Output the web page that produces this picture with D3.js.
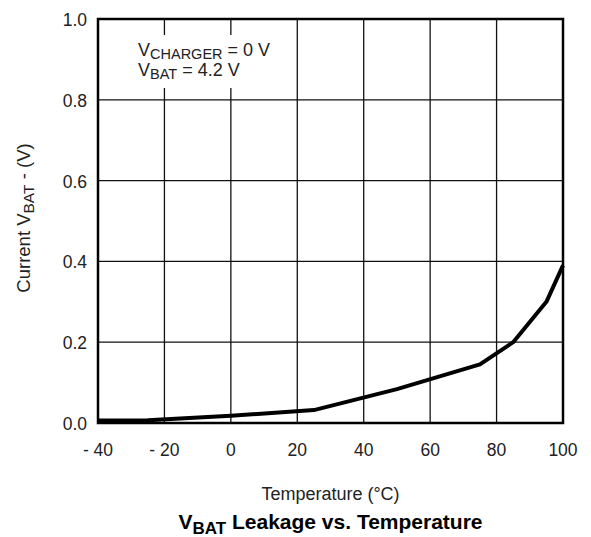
<!DOCTYPE html>
<html>
<head>
<meta charset="utf-8">
<script src="https://cdn.jsdelivr.net/npm/d3@7"></script>
<style>
body { margin:0; background:#fff; }
text { font-family: "Liberation Sans", Arial, sans-serif; fill:#222; }
</style>
</head>
<body>
<div id="chart"></div>
<script>
// values
var temps = [-40, -25, 0, 25, 50, 75, 85, 95, 100];
var volts = [0.006, 0.007, 0.018, 0.032, 0.084, 0.145, 0.2, 0.3, 0.39];
var xTicks = [-40, -20, 0, 20, 40, 60, 80, 100];
var yTicks = [0, 0.2, 0.4, 0.6, 0.8, 1.0];

var width = 591, height = 537;
var margin = {t:19, r:28, b:114, l:98};
var plotWidth = width - margin.l - margin.r,
    plotHeight = height - margin.t - margin.b;

var svg = d3.select('#chart')
	.append('svg')
	.attr('width', width)
	.attr('height', height);

var plot = svg.append('g')
	.attr('transform','translate('+margin.l+','+margin.t+')');

var x = d3.scaleLinear().domain([-40, 100]).range([0, plotWidth]);
var y = d3.scaleLinear().domain([0, 1]).range([plotHeight, 0]);

// grid
plot.selectAll('.vgrid')
	.data(xTicks.slice(1, -1))
	.enter()
	.append('line')
	.attr('x1', function(d){ return x(d); })
	.attr('x2', function(d){ return x(d); })
	.attr('y1', 0)
	.attr('y2', plotHeight)
	.style('stroke','#111')
	.style('stroke-width','1.3px');

plot.selectAll('.hgrid')
	.data(yTicks.slice(1, -1))
	.enter()
	.append('line')
	.attr('x1', 0)
	.attr('x2', plotWidth)
	.attr('y1', function(d){ return y(d); })
	.attr('y2', function(d){ return y(d); })
	.style('stroke','#111')
	.style('stroke-width','1.3px');

// note box covers the grid
plot.append('rect')
	.attr('x', 36)
	.attr('y', 16)
	.attr('width', 146)
	.attr('height', 53)
	.style('fill','white');

var note = plot.append('text')
	.attr('x', 40)
	.attr('y', 37)
	.style('font-size','18px');
note.append('tspan').text('V');
note.append('tspan').attr('dy', 3).style('font-size','14.5px').text('CHARGER');
note.append('tspan').attr('dy', -3).text(' = 0 V');

var note2 = plot.append('text')
	.attr('x', 40)
	.attr('y', 57)
	.style('font-size','18px');
note2.append('tspan').text('V');
note2.append('tspan').attr('dy', 3).style('font-size','14.5px').text('BAT');
note2.append('tspan').attr('dy', -3).text(' = 4.2 V');

// curve
var line = d3.line()
	.x(function(d){ return x(d[0]); })
	.y(function(d){ return y(d[1]); });

plot.append('path')
	.datum(d3.zip(temps, volts))
	.attr('d', line)
	.style('fill','none')
	.style('stroke','black')
	.style('stroke-width','4px')
	.style('stroke-linejoin','round');

// frame
plot.append('rect')
	.attr('width', plotWidth)
	.attr('height', plotHeight)
	.style('fill','none')
	.style('stroke','black')
	.style('stroke-width','2.5px');

// tick labels
plot.selectAll('.xlab')
	.data(xTicks)
	.enter()
	.append('text')
	.attr('x', function(d){ return x(d); })
	.attr('y', plotHeight + 33)
	.attr('text-anchor','middle')
	.style('font-size','17.5px')
	.text(function(d){ return d < 0 ? '- ' + Math.abs(d) : d; });

plot.selectAll('.ylab')
	.data(yTicks)
	.enter()
	.append('text')
	.attr('x', -11)
	.attr('y', function(d){ return y(d) + 7; })
	.attr('text-anchor','end')
	.style('font-size','17.5px')
	.text(function(d){ return d.toFixed(1); });

// axis titles
var ytitle = svg.append('text')
	.attr('transform','translate(30,218) rotate(-90)')
	.attr('text-anchor','middle')
	.style('font-size','18.5px');
ytitle.append('tspan').text('Current V');
ytitle.append('tspan').attr('dy', 4).style('font-size','15.5px').text('BAT');
ytitle.append('tspan').attr('dy', -4).text(' - (V)');

svg.append('text')
	.attr('x', margin.l + plotWidth/2)
	.attr('y', 500)
	.attr('text-anchor','middle')
	.style('font-size','18px')
	.text('Temperature (°C)');

var title = svg.append('text')
	.attr('x', margin.l + plotWidth/2)
	.attr('y', 529)
	.attr('text-anchor','middle')
	.style('font-size','21px')
	.style('font-weight','bold')
	.style('fill','#000');
title.append('tspan').text('V');
title.append('tspan').attr('dy', 5).style('font-size','17px').text('BAT');
title.append('tspan').attr('dy', -5).text(' Leakage vs. Temperature');
</script>
</body>
</html>
